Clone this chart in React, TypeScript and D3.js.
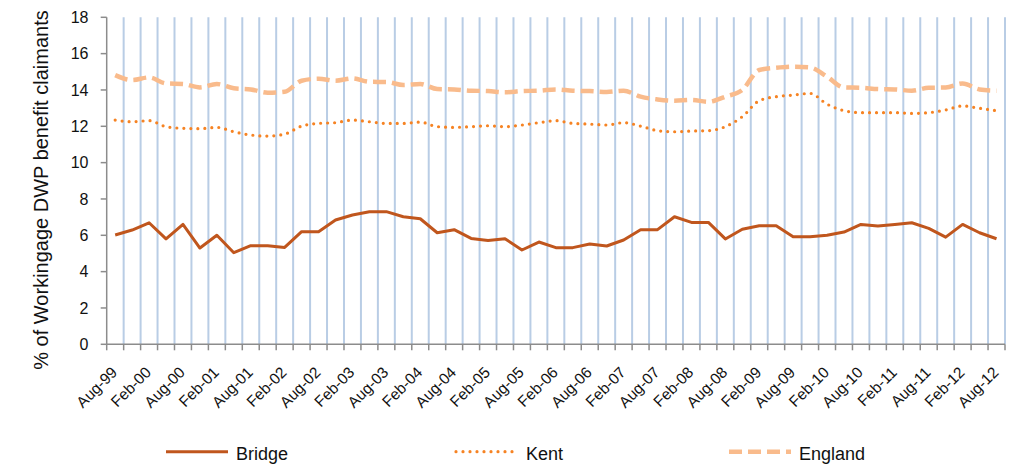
import React from 'react';
import { scaleBand, scaleLinear, line, curveMonotoneX, curveLinear } from 'd3';

const quarters = [
  'Aug-99', 'Nov-99', 'Feb-00', 'May-00', 'Aug-00', 'Nov-00', 'Feb-01', 'May-01',
  'Aug-01', 'Nov-01', 'Feb-02', 'May-02', 'Aug-02', 'Nov-02', 'Feb-03', 'May-03',
  'Aug-03', 'Nov-03', 'Feb-04', 'May-04', 'Aug-04', 'Nov-04', 'Feb-05', 'May-05',
  'Aug-05', 'Nov-05', 'Feb-06', 'May-06', 'Aug-06', 'Nov-06', 'Feb-07', 'May-07',
  'Aug-07', 'Nov-07', 'Feb-08', 'May-08', 'Aug-08', 'Nov-08', 'Feb-09', 'May-09',
  'Aug-09', 'Nov-09', 'Feb-10', 'May-10', 'Aug-10', 'Nov-10', 'Feb-11', 'May-11',
  'Aug-11', 'Nov-11', 'Feb-12', 'May-12', 'Aug-12'
];

// only every other quarter gets a label
const tickLabels = [
  'Aug-99', 'Feb-00', 'Aug-00', 'Feb-01', 'Aug-01', 'Feb-02', 'Aug-02', 'Feb-03', 'Aug-03',
  'Feb-04', 'Aug-04', 'Feb-05', 'Aug-05', 'Feb-06', 'Aug-06', 'Feb-07', 'Aug-07', 'Feb-08',
  'Aug-08', 'Feb-09', 'Aug-09', 'Feb-10', 'Aug-10', 'Feb-11', 'Aug-11', 'Feb-12', 'Aug-12'
];

const yTicks = [0, 2, 4, 6, 8, 10, 12, 14, 16, 18];

const bridge = [
  6.02, 6.29, 6.69, 5.8, 6.6, 5.3, 6.0, 5.04, 5.43, 5.43,
  5.33, 6.2, 6.2, 6.84, 7.12, 7.3, 7.3, 7.02, 6.91, 6.14,
  6.31, 5.83, 5.72, 5.81, 5.19, 5.63, 5.32, 5.32, 5.52, 5.41,
  5.74, 6.31, 6.31, 7.02, 6.71, 6.71, 5.8, 6.33, 6.53, 6.53,
  5.92, 5.92, 6.0, 6.18, 6.6, 6.51, 6.6, 6.69, 6.38, 5.9,
  6.6, 6.14, 5.81
];

const kent = [
  12.34, 12.25, 12.31, 11.98, 11.89, 11.87, 11.94, 11.7, 11.52, 11.46,
  11.57, 12.01, 12.16, 12.2, 12.34, 12.25, 12.16, 12.16, 12.23, 11.98,
  11.94, 11.98, 12.03, 11.98, 12.07, 12.2, 12.31, 12.16, 12.12, 12.07,
  12.2, 12.01, 11.76, 11.7, 11.74, 11.76, 11.98, 12.53, 13.41, 13.63,
  13.72, 13.81, 13.22, 12.86, 12.75, 12.75, 12.75, 12.71, 12.75, 12.9,
  13.12, 12.99, 12.86
];

const england = [
  14.82, 14.55, 14.69, 14.36, 14.33, 14.14, 14.33, 14.09, 14.03, 13.85,
  13.9, 14.51, 14.62, 14.51, 14.64, 14.45, 14.44, 14.27, 14.33, 14.05,
  14.03, 13.96, 13.94, 13.87, 13.94, 13.96, 14.03, 13.96, 13.94, 13.89,
  13.96, 13.63, 13.48, 13.41, 13.45, 13.35, 13.63, 14.0, 15.1, 15.22,
  15.28, 15.24, 14.73, 14.14, 14.12, 14.05, 14.03, 13.96, 14.12, 14.14,
  14.36, 14.03, 13.96
];

const series = [
  { name: 'Bridge', values: bridge, color: '#c0561d', width: 3, dash: '', cap: 'butt', curve: curveLinear, legendX: 166 },
  { name: 'Kent', values: kent, color: '#f68323', width: 3.2, dash: '0 7', cap: 'round', curve: curveMonotoneX, legendX: 456 },
  { name: 'England', values: england, color: '#f9bb8c', width: 4.5, dash: '13 6', cap: 'butt', curve: curveMonotoneX, legendX: 729 }
];

const W = 1009;
const H = 464;
const left = 106.7;
const right = 1005;
const top = 17.3;
const bottom = 344.3;
const font = '"Liberation Sans", Arial, sans-serif';

export default function App() {
  const x = scaleBand().domain(quarters).range([left, right]).padding(0);
  const y = scaleLinear().domain([0, 18]).range([bottom, top]);
  const bw = x.bandwidth();
  const cx = (q: string) => (x(q) as number) + bw / 2;

  const boundaries = quarters.map(q => x(q) as number).concat([right]);

  return (
    <svg width={W} height={H} style={{ position: 'absolute', left: 0, top: 0, background: '#fff' }} fontFamily={font}>
      {/* vertical gridlines between categories */}
      {boundaries.slice(1).map((b, i) => (
        <line key={'g' + i} x1={b} x2={b} y1={top} y2={bottom} stroke="#b9cde5" strokeWidth={2} />
      ))}

      {/* y axis */}
      <line x1={left} x2={left} y1={top} y2={bottom} stroke="#8c8c8c" strokeWidth={1.5} />
      {yTicks.map(t => (
        <g key={'y' + t}>
          <line x1={left - 6} x2={left} y1={y(t)} y2={y(t)} stroke="#8c8c8c" strokeWidth={1.5} />
          <text x={88.5} y={y(t)} dy="0.36em" textAnchor="end" fontSize={16} fill="#111">{t}</text>
        </g>
      ))}
      <text transform={`translate(48,190) rotate(-90)`} textAnchor="middle" fontSize={20} fill="#111">
        % of Workingage DWP benefit claimants
      </text>

      {/* x axis */}
      <line x1={left} x2={right} y1={bottom} y2={bottom} stroke="#8c8c8c" strokeWidth={1.5} />
      {boundaries.map((b, i) => (
        <line key={'xt' + i} x1={b} x2={b} y1={bottom} y2={bottom + 6} stroke="#8c8c8c" strokeWidth={1.5} />
      ))}
      {tickLabels.map(l => (
        <text key={l} transform={`translate(${cx(l) + 3},${bottom + 29}) rotate(-45)`} textAnchor="end" fontSize={15.5} fill="#111">
          {l}
        </text>
      ))}

      {/* series */}
      {series.map(s => {
        const path = line<number>()
          .x((d, i) => cx(quarters[i]))
          .y(d => y(d))
          .curve(s.curve)(s.values);
        return (
          <path key={s.name} d={path || ''} fill="none" stroke={s.color} strokeWidth={s.width}
            strokeDasharray={s.dash || undefined} strokeLinecap={s.cap as any} strokeLinejoin="round" />
        );
      })}

      {/* legend */}
      {series.map(s => (
        <g key={'lg' + s.name}>
          <line x1={s.legendX} x2={s.legendX + 62} y1={451.7} y2={451.7} stroke={s.color} strokeWidth={s.width}
            strokeDasharray={s.dash || undefined} strokeLinecap={s.cap as any} />
          <text x={s.legendX + 70} y={460} fontSize={18} fill="#111">{s.name}</text>
        </g>
      ))}
    </svg>
  );
}
